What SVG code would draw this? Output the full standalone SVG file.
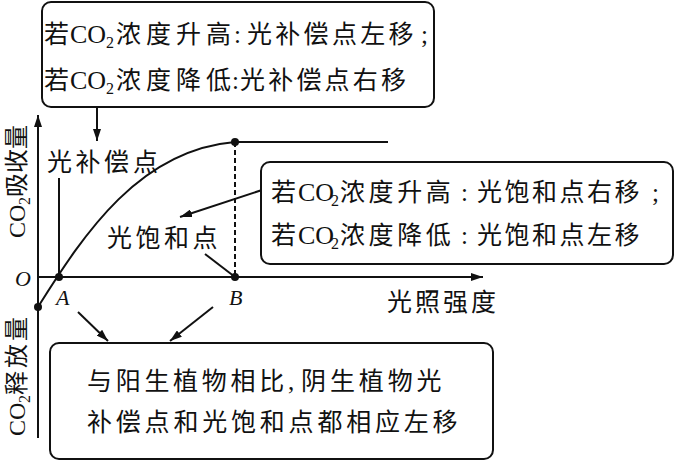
<svg xmlns="http://www.w3.org/2000/svg" width="675" height="461" viewBox="0 0 675 461">
<style>
.t{font-family:"Liberation Serif","Noto Sans CJK SC",serif;font-size:25px;fill:#111}
.lat{font-family:"Liberation Serif",serif;font-size:26px}
.sub{font-family:"Liberation Serif",serif;font-size:16px}
.it{font-family:"Liberation Serif",serif;font-style:italic;font-size:22px;fill:#111}
.box{fill:#fff;stroke:#111;stroke-width:2}
.ln{fill:none;stroke:#111;stroke-width:2}
.dot{fill:#111}
</style>
<defs>
<marker id="ah" viewBox="0 0 12 8" markerWidth="12" markerHeight="8" refX="12" refY="4" orient="auto" markerUnits="userSpaceOnUse">
<path d="M0,0 L12,4 L0,8 Z" fill="#111"/>
</marker>
</defs>
<rect width="675" height="461" fill="#fff"/>

<g id="connectors">
<line class="ln" x1="38" y1="438" x2="38" y2="115" marker-end="url(#ah)"/>
<line class="ln" x1="38" y1="277" x2="483" y2="277" marker-end="url(#ah)"/>
<path class="ln" d="M38,307 C85,232 140,150 235,142"/>
<line class="ln" x1="235" y1="142" x2="388" y2="142"/>
<line class="ln" x1="235" y1="142" x2="235" y2="277" stroke-dasharray="5,3"/>
<line class="ln" x1="59" y1="178" x2="59" y2="277"/>
<line class="ln" x1="205" y1="254" x2="235" y2="277"/>
<line class="ln" x1="97" y1="107" x2="97" y2="141" marker-end="url(#ah)"/>
<line class="ln" x1="262" y1="190" x2="180" y2="217" marker-end="url(#ah)"/>
<line class="ln" x1="78" y1="312" x2="108" y2="341" marker-end="url(#ah)"/>
<line class="ln" x1="213" y1="307" x2="170" y2="341" marker-end="url(#ah)"/>
<circle class="dot" cx="38" cy="307" r="4"/>
<circle class="dot" cx="59" cy="277" r="4"/>
<circle class="dot" cx="235" cy="142" r="4"/>
<circle class="dot" cx="235" cy="277" r="4"/>
</g>

<g id="axis-labels">
<text class="t" transform="translate(25,238) rotate(-90)"><tspan x="0" y="0" style="font-family:'Liberation Serif',serif;font-size:24px">CO</tspan><tspan x="33" y="5" class="sub" font-size="15">2</tspan><tspan x="41" y="0" font-size="24" letter-spacing="0">吸收量</tspan></text>
<text class="t" transform="translate(25,436) rotate(-90)"><tspan x="0" y="0" style="font-family:'Liberation Serif',serif;font-size:24px">CO</tspan><tspan x="33" y="5" class="sub" font-size="15">2</tspan><tspan x="41" y="0" font-size="24" letter-spacing="3">释放量</tspan></text>
<text class="it" x="15" y="286">O</text>
<text class="it" x="56" y="305">A</text>
<text class="it" x="229" y="305">B</text>
<text class="t" x="387" y="311" letter-spacing="3">光照强度</text>
</g>

<g id="label-compensation">
<text class="t" x="47 75.5 104 133" y="171">光补偿点</text>
</g>
<g id="label-saturation">
<text class="t" x="107 135.5 164 192.5" y="247">光饱和点</text>
</g>

<g id="box-top">
<rect class="box" x="42" y="2" width="392" height="105" rx="9"/>
<text class="t"><tspan x="44" y="43">若</tspan><tspan class="lat" x="70" y="43">CO</tspan><tspan class="sub" x="106" y="48">2</tspan><tspan x="116" y="43" letter-spacing="5">浓度升高</tspan><tspan x="234" y="43">:</tspan><tspan x="247" y="43" letter-spacing="3.3">光补偿点左移</tspan><tspan x="421" y="43">;</tspan></text>
<text class="t"><tspan x="44" y="89">若</tspan><tspan class="lat" x="70" y="89">CO</tspan><tspan class="sub" x="106" y="94">2</tspan><tspan x="116" y="89" letter-spacing="5">浓度降低</tspan><tspan x="232" y="89">:</tspan><tspan x="240" y="89" letter-spacing="3.2">光补偿点右移</tspan></text>
</g>

<g id="box-right">
<rect class="box" x="261" y="162" width="412" height="102" rx="9"/>
<text class="t"><tspan x="271" y="201">若</tspan><tspan class="lat" x="298" y="201">CO</tspan><tspan class="sub" x="331" y="206">2</tspan><tspan x="340" y="201" letter-spacing="3.6">浓度升高</tspan><tspan x="461" y="201">:</tspan><tspan x="477" y="201" letter-spacing="2.5">光饱和点右移</tspan><tspan x="652" y="201">;</tspan></text>
<text class="t"><tspan x="271" y="244">若</tspan><tspan class="lat" x="298" y="244">CO</tspan><tspan class="sub" x="331" y="249">2</tspan><tspan x="340" y="244" letter-spacing="3.6">浓度降低</tspan><tspan x="461" y="244">:</tspan><tspan x="477" y="244" letter-spacing="2.5">光饱和点左移</tspan></text>
</g>

<g id="box-bottom">
<rect class="box" x="50" y="343" width="443" height="116" rx="9"/>
<text class="t"><tspan x="87" y="390" letter-spacing="3.7">与阳生植物相比</tspan><tspan x="288" y="390">,</tspan><tspan x="301" y="390" letter-spacing="3.9">阴生植物光</tspan></text>
<text class="t" x="87" y="431" letter-spacing="3.8">补偿点和光饱和点都相应左移</text>
</g>
</svg>
